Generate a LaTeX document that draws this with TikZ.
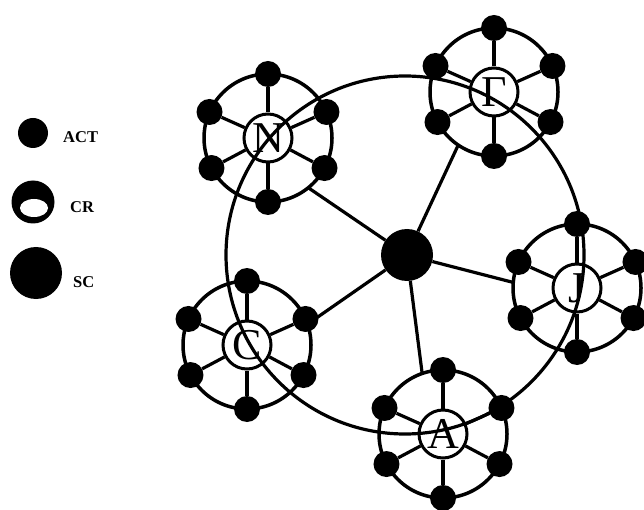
\documentclass[tikz,border=0pt]{standalone}
\usepackage{fontspec}
\setmainfont{Liberation Serif}
\usepackage{tikz}
\definecolor{Ink}{HTML}{000000}
\definecolor{Paper}{HTML}{FFFFFF}

\begin{document}
\begin{tikzpicture}[x=1pt,y=-1pt,
  act/.style={circle,fill=Ink,inner sep=0pt,minimum size=26},
  cr/.style={circle,draw=Ink,fill=Paper,line width=3pt,inner sep=0pt,minimum size=48,
    font=\fontsize{44}{44}\selectfont},
  sc/.style={circle,fill=Ink,inner sep=0pt,minimum size=52},
  bond/.style={Ink,line width=3.2pt},
  rim/.style={Ink,line width=3.5pt},
  key/.style={font=\fontsize{16.5}{18}\selectfont\bfseries,anchor=west,inner sep=0pt}]
  \useasboundingbox (0,0) rectangle (644,510);
  \def\rr{64}
  % clusters: name/x/y/letter/angle of the link to SC
  \foreach \n/\cx/\cy/\lab/\lk in {
    N/268/138/N/51,
    G/494/92/Γ/124,
    J/577/288/J/185,
    A/443/434/A/251,
    C/247/345/C/-19} {
    \begin{scope}[shift={(\cx,\cy)}]
      \node[cr] (cr\n) at (0,0) {\lab};
      \foreach \a [count=\k] in {-90,-24,28,90,152,204}
        \node[act] (a\n\k) at (\a:\rr) {};
      \coordinate (l\n) at (\lk:\rr);
    \end{scope}
    \draw[rim] (cr\n.center) circle (\rr);
    \foreach \k in {1,...,6}
      \draw[bond] (cr\n) -- (a\n\k);
  }
  % big ring through the clusters
  \coordinate (hub) at (405,255);
  \draw[bond] (hub) circle (179);
  \node[sc] (sc) at (407,255) {};
  \foreach \n in {N,G,J,A,C}
    \draw[bond] (sc) -- (l\n);
  % key
  \node[act,minimum size=30] (keyact) at (33,133) {};
  \node[key] (keyactlab) at (63,137) {ACT};
  \node[circle,fill=Ink,inner sep=0pt,minimum size=43] (keycr) at (33,202) {};
  \fill[Paper] (34,208) ellipse (14 and 9);
  \node[key] (keycrlab) at (70,207) {CR};
  \node[sc] (keysc) at (36,273) {};
  \node[key] (keysclab) at (73,282) {SC};
\end{tikzpicture}
\end{document}
